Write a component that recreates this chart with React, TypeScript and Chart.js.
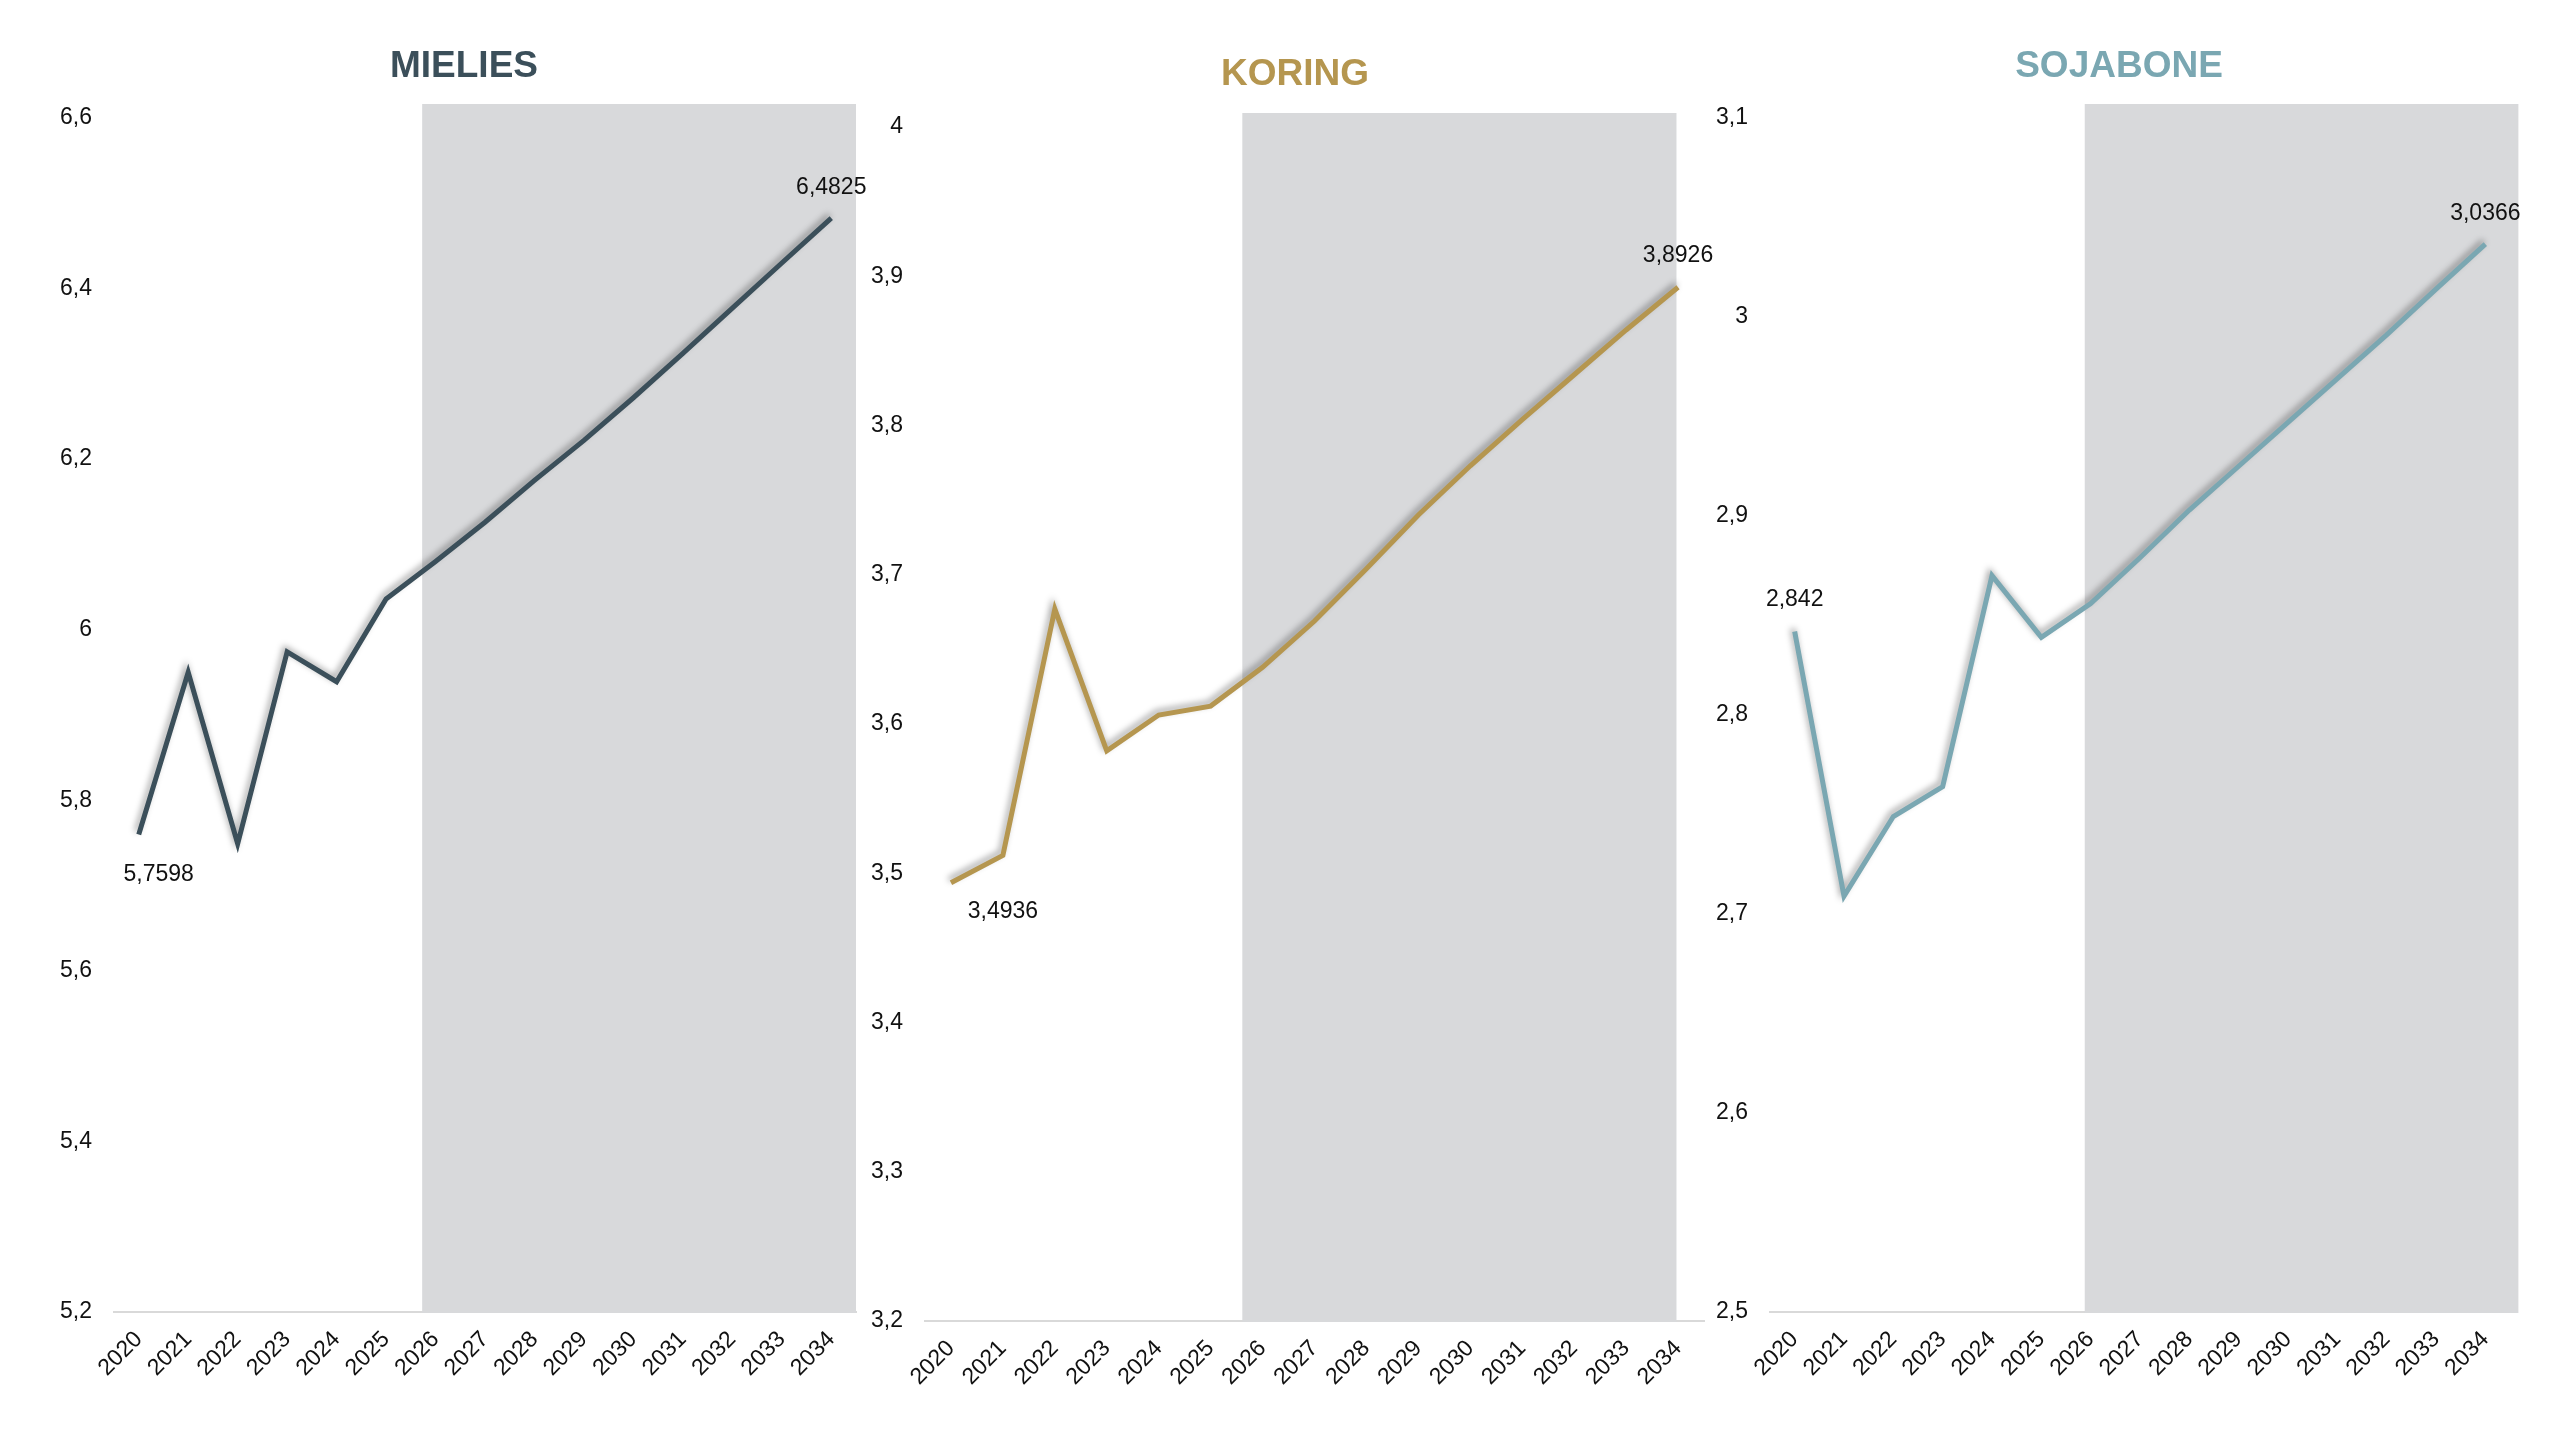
import React, { useEffect, useRef } from "react";
import { Chart, registerables } from "chart.js";

Chart.register(...registerables);

// ---------- data ----------
const years = ["2020", "2021", "2022", "2023", "2024", "2025", "2026", "2027", "2028", "2029", "2030", "2031", "2032", "2033", "2034"];

const mieliesValues = [5.7598, 5.95, 5.749, 5.974, 5.939, 6.036, 6.08, 6.126, 6.175, 6.222, 6.272, 6.324, 6.377, 6.43, 6.4825];
const koringValues = [3.4936, 3.512, 3.677, 3.582, 3.606, 3.612, 3.638, 3.669, 3.704, 3.74, 3.773, 3.804, 3.834, 3.864, 3.8926];
const sojaboneValues = [2.842, 2.709, 2.749, 2.764, 2.87, 2.839, 2.856, 2.879, 2.903, 2.925, 2.947, 2.969, 2.991, 3.014, 3.0366];

const mieliesTicks = { min: 5.2, max: 6.6, step: 0.2 };
const koringTicks = { min: 3.2, max: 4.0, step: 0.1 };
const sojaboneTicks = { min: 2.5, max: 3.1, step: 0.1 };

const titles = ["MIELIES", "KORING", "SOJABONE"];
// projection shading expressed in category units (index along the x axis)
const mieliesBand = [5.73, 14.5];
const koringBand = [5.61, 13.97];
const sojaboneBand = [5.88, 14.67];
// indices of labelled points
const labelledIdx = [0, 14];

// ---------- styles / layout ----------
const FONT = "'Liberation Sans', Arial, Helvetica, sans-serif";
const GREY = "#D8D9DB";

type Panel = {
  title: string;
  color: string;
  values: number[];
  ticks: { min: number; max: number; step: number };
  band: number[];
  canvasLeft: number;
  canvasWidth: number;
  areaLeft: number;
  areaRight: number;
  areaTop: number;
  areaBottom: number;
  titleX: number;
  titleBaseline: number;
  labelOffsets: { dx: number; dy: number }[];
};

const panels: Panel[] = [
  {
    title: titles[0], color: "#3B4F5A", values: mieliesValues, ticks: mieliesTicks, band: mieliesBand,
    canvasLeft: 0, canvasWidth: 880, areaLeft: 114, areaRight: 856, areaTop: 118, areaBottom: 1312,
    titleX: 464, titleBaseline: 77,
    labelOffsets: [{ dx: 20, dy: 40 }, { dx: 0, dy: -31 }],
  },
  {
    title: titles[1], color: "#B5964F", values: koringValues, ticks: koringTicks, band: koringBand,
    canvasLeft: 860, canvasWidth: 880, areaLeft: 925, areaRight: 1704, areaTop: 127, areaBottom: 1321,
    titleX: 1295, titleBaseline: 85,
    labelOffsets: [{ dx: 52, dy: 29 }, { dx: 0, dy: -32 }],
  },
  {
    title: titles[2], color: "#7AA7B2", values: sojaboneValues, ticks: sojaboneTicks, band: sojaboneBand,
    canvasLeft: 1700, canvasWidth: 860, areaLeft: 1770, areaRight: 2510, areaTop: 118, areaBottom: 1312,
    titleX: 2119, titleBaseline: 77,
    labelOffsets: [{ dx: 0, dy: -32 }, { dx: 0, dy: -31 }],
  },
];

const fmt = (v: number) => String(Math.round(v * 10) / 10).replace(".", ",");
const fmtFull = (v: number) => String(v).replace(".", ",");

function PanelChart({ p }: { p: Panel }) {
  const ref = useRef<HTMLCanvasElement | null>(null);
  useEffect(() => {
    if (!ref.current) return;
    const relLeft = p.areaLeft - p.canvasLeft;
    const relRight = p.areaRight - p.canvasLeft;

    const bandPlugin = {
      id: "band",
      beforeDatasetsDraw(chart: any) {
        const { ctx, chartArea } = chart;
        const xs = chart.scales.x;
        const x0 = xs.getPixelForValue(p.band[0]);
        const x1 = xs.getPixelForValue(p.band[1]);
        ctx.save();
        ctx.fillStyle = GREY;
        ctx.fillRect(x0, chartArea.top - 14, x1 - x0, chartArea.bottom - chartArea.top + 15);
        ctx.restore();
      },
    };
    const shadowPlugin = {
      id: "shadow",
      beforeDatasetDraw(chart: any) {
        const ctx = chart.ctx;
        ctx.save();
        ctx.shadowColor = "rgba(0,0,0,0.35)";
        ctx.shadowBlur = 6;
        ctx.shadowOffsetX = -2;
        ctx.shadowOffsetY = -3;
      },
      afterDatasetDraw(chart: any) {
        chart.ctx.restore();
      },
    };
    const labelPlugin = {
      id: "vlabels",
      afterDatasetsDraw(chart: any) {
        const { ctx } = chart;
        const meta = chart.getDatasetMeta(0);
        ctx.save();
        ctx.font = `23px ${FONT}`;
        ctx.fillStyle = "#111";
        ctx.textAlign = "center";
        ctx.textBaseline = "middle";
        labelledIdx.forEach((idx, k) => {
          const pt = meta.data[idx];
          const o = p.labelOffsets[k];
          ctx.fillText(fmtFull(p.values[idx]), pt.x + o.dx, pt.y + o.dy);
        });
        ctx.restore();
      },
    };
    const titlePlugin = {
      id: "ptitle",
      afterDraw(chart: any) {
        const { ctx } = chart;
        ctx.save();
        ctx.font = `bold 37px ${FONT}`;
        ctx.fillStyle = p.color;
        ctx.textAlign = "center";
        ctx.textBaseline = "alphabetic";
        ctx.fillText(p.title, p.titleX - p.canvasLeft, p.titleBaseline);
        ctx.restore();
      },
    };

    const chart = new Chart(ref.current, {
      type: "line",
      data: {
        labels: years,
        datasets: [
          {
            data: p.values,
            borderColor: p.color,
            borderWidth: 5,
            pointRadius: 0,
            tension: 0,
            fill: false,
            borderJoinStyle: "miter",
            borderCapStyle: "butt",
          },
        ],
      },
      options: {
        responsive: false,
        animation: false,
        devicePixelRatio: 1,
        layout: {
          padding: { left: 0, right: p.canvasWidth - relRight, top: p.areaTop, bottom: 0 },
        },
        plugins: { legend: { display: false }, tooltip: { enabled: false }, title: { display: false } },
        scales: {
          x: {
            type: "category",
            offset: true,
            grid: { display: false, drawTicks: false },
            border: { display: true, color: "#D9D9D9", width: 2 },
            ticks: {
              autoSkip: false,
              minRotation: 45,
              maxRotation: 45,
              padding: 14,
              color: "#111",
              font: { family: FONT, size: 23 },
            },
            afterFit(scale: any) {
              scale.height = 1440 - p.areaBottom;
            },
          },
          y: {
            min: p.ticks.min,
            max: p.ticks.max,
            grid: { display: false, drawTicks: false },
            border: { display: false },
            ticks: {
              stepSize: p.ticks.step,
              padding: 22,
              color: "#111",
              font: { family: FONT, size: 23 },
              callback: (v: any) => fmt(Number(v)),
            },
            afterFit(scale: any) {
              scale.width = relLeft;
            },
          },
        },
      },
      plugins: [bandPlugin, shadowPlugin, labelPlugin, titlePlugin],
    } as any);
    return () => chart.destroy();
  }, [p]);

  return (
    <canvas
      ref={ref}
      width={p.canvasWidth}
      height={1440}
      style={{ position: "absolute", left: p.canvasLeft, top: 0, width: p.canvasWidth, height: 1440 }}
    />
  );
}

export default function App() {
  return (
    <div style={{ position: "absolute", left: 0, top: 0, width: 2560, height: 1440, background: "#fff", overflow: "hidden" }}>
      {panels.map((p) => (
        <PanelChart key={p.title} p={p} />
      ))}
    </div>
  );
}
